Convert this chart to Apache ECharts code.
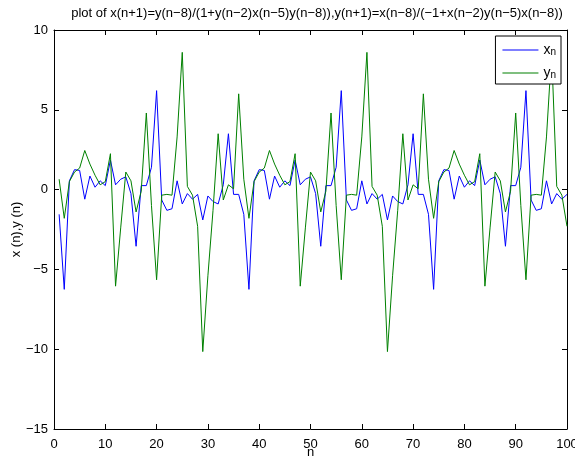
<!DOCTYPE html>
<html>
<head>
<meta charset="utf-8">
<script src="https://cdn.jsdelivr.net/npm/echarts@6/dist/echarts.min.js"></script>
<style>
html,body{margin:0;padding:0;background:#fff;}
#chart{width:575px;height:459px;}
</style>
</head>
<body>
<div id="chart"></div>
<script>
var titleText = 'plot of x(n+1)=y(n\u22128)/(1+y(n\u22122)x(n\u22125)y(n\u22128)),y(n+1)=x(n\u22128)/(\u22121+x(n\u22122)y(n\u22125)x(n\u22128))';
var xName = 'n';
var yName = 'x (n),y (n)';
var seriesNames = ['x', 'y'];
var seriesColors = ['#0000ff', '#008000'];

var xValues = [
 -1.55,-6.25,0.55,1.25,1.2,-0.6,0.85,0.15,0.55,0.25,1.85,0.3,0.65,0.8,-0.25,-3.55,0.25,0.25,1.4,6.2,
 -0.65,-1.3,-1.2,0.55,-0.9,-0.25,-0.6,-0.3,-1.9,-0.4,-0.75,-0.9,0.3,3.5,-0.3,-0.3,
 -1.55,-6.25,0.55,1.25,1.2,-0.6,0.85,0.15,0.55,0.25,1.85,0.3,0.65,0.8,-0.25,-3.55,0.25,0.25,1.4,6.2,
 -0.65,-1.3,-1.2,0.55,-0.9,-0.25,-0.6,-0.3,-1.9,-0.4,-0.75,-0.9,0.3,3.5,-0.3,-0.3,
 -1.55,-6.25,0.55,1.25,1.2,-0.6,0.85,0.15,0.55,0.25,1.85,0.3,0.65,0.8,-0.25,-3.55,0.25,0.25,1.4,6.2,
 -0.65,-1.3,-1.2,0.55,-0.9,-0.25,-0.6,-0.3
];
var yValues = [
 0.65,-1.8,0.5,1.1,1.35,2.45,1.6,0.9,0.3,0.5,2.25,-6.05,-2.4,1.1,0.55,-1.4,-0.1,4.8,-1.0,-5.65,
 -0.35,-0.3,-0.35,3.3,8.6,0.2,-0.35,-2.3,-10.15,-5.4,-1.3,3.5,-0.65,0.3,0.05,6.0,
 0.65,-1.8,0.5,1.1,1.35,2.45,1.6,0.9,0.3,0.5,2.25,-6.05,-2.4,1.1,0.55,-1.4,-0.1,4.8,-1.0,-5.65,
 -0.35,-0.3,-0.35,3.3,8.6,0.2,-0.35,-2.3,-10.15,-5.4,-1.3,3.5,-0.65,0.3,0.05,6.0,
 0.65,-1.8,0.5,1.1,1.35,2.45,1.6,0.9,0.3,0.5,2.25,-6.05,-2.4,1.1,0.55,-1.4,-0.1,4.8,-1.0,-5.65,
 -0.35,-0.3,-0.35,3.3,8.6,0.2,-0.35,-2.3
];
var xTicks = {min: 0, max: 100, interval: 10};
var yTicks = {min: -15, max: 10, interval: 5};

function pairs(arr){ return arr.map(function(v,i){ return [i+1, v]; }); }
function fmtNum(v){ return v < 0 ? '\u2212' + Math.abs(v) : String(v); }

var FONT = '"Liberation Sans", Arial, Helvetica, sans-serif';
var chart = echarts.init(document.getElementById('chart'), null, {renderer:'canvas'});
var axisCommon = {
  axisLine:{show:true, onZero:false, lineStyle:{color:'#000', width:1}},
  axisTick:{show:true, inside:true, length:5, lineStyle:{color:'#000', width:1}},
  splitLine:{show:false}
};
chart.setOption({
  animation:false,
  backgroundColor:'#fff',
  title:{text:titleText, left:312, textAlign:'center', top:2,
    textStyle:{fontFamily:FONT, fontSize:13, fontWeight:'normal', color:'#000'}},
  grid:{left:54, right:8, top:30, bottom:30, containLabel:false, outerBoundsMode:'none'},
  legend:{
    orient:'vertical', right:14, top:36,
    backgroundColor:'#fff', borderColor:'#000', borderWidth:1,
    padding:[5,5,4,7], itemGap:7, itemWidth:36, itemHeight:1,
    icon:'rect',
    data:[{name:seriesNames[0], itemStyle:{color:seriesColors[0]}},
          {name:seriesNames[1], itemStyle:{color:seriesColors[1]}}],
    formatter:function(name){ return '{m|' + name + '}{s|n}'; },
    textStyle:{fontFamily:FONT, color:'#000',
      rich:{
        m:{fontFamily:FONT, fontSize:14, color:'#000', lineHeight:14, verticalAlign:'middle'},
        s:{fontFamily:FONT, fontSize:10, color:'#000', lineHeight:14, verticalAlign:'bottom', padding:[6,0,0,0]}
      }}
  },
  xAxis:[
    Object.assign({type:'value', position:'bottom', min:xTicks.min, max:xTicks.max, interval:xTicks.interval,
      name:xName, nameLocation:'middle', nameGap:17, nameMoveOverlap:false,
      nameTextStyle:{fontFamily:FONT, fontSize:13, color:'#000'},
      axisLabel:{fontFamily:FONT, fontSize:13, color:'#000', margin:9}}, axisCommon),
    Object.assign({type:'value', position:'top', min:xTicks.min, max:xTicks.max, interval:xTicks.interval,
      axisLabel:{show:false}}, axisCommon)
  ],
  yAxis:[
    Object.assign({type:'value', position:'left', min:yTicks.min, max:yTicks.max, interval:yTicks.interval,
      name:yName, nameLocation:'middle', nameGap:31, nameMoveOverlap:false,
      nameTextStyle:{fontFamily:FONT, fontSize:13, color:'#000'},
      axisLabel:{fontFamily:FONT, fontSize:13, color:'#000', margin:6, formatter:fmtNum}}, axisCommon),
    Object.assign({type:'value', position:'right', min:yTicks.min, max:yTicks.max, interval:yTicks.interval,
      axisLabel:{show:false}}, axisCommon)
  ],
  series:[
    {name:seriesNames[0], type:'line', data:pairs(xValues), showSymbol:false, symbol:'none',
      lineStyle:{color:seriesColors[0], width:1}, itemStyle:{color:seriesColors[0]}, xAxisIndex:0, yAxisIndex:0},
    {name:seriesNames[1], type:'line', data:pairs(yValues), showSymbol:false, symbol:'none',
      lineStyle:{color:seriesColors[1], width:1}, itemStyle:{color:seriesColors[1]}, xAxisIndex:0, yAxisIndex:0}
  ]
});
</script>
</body>
</html>
